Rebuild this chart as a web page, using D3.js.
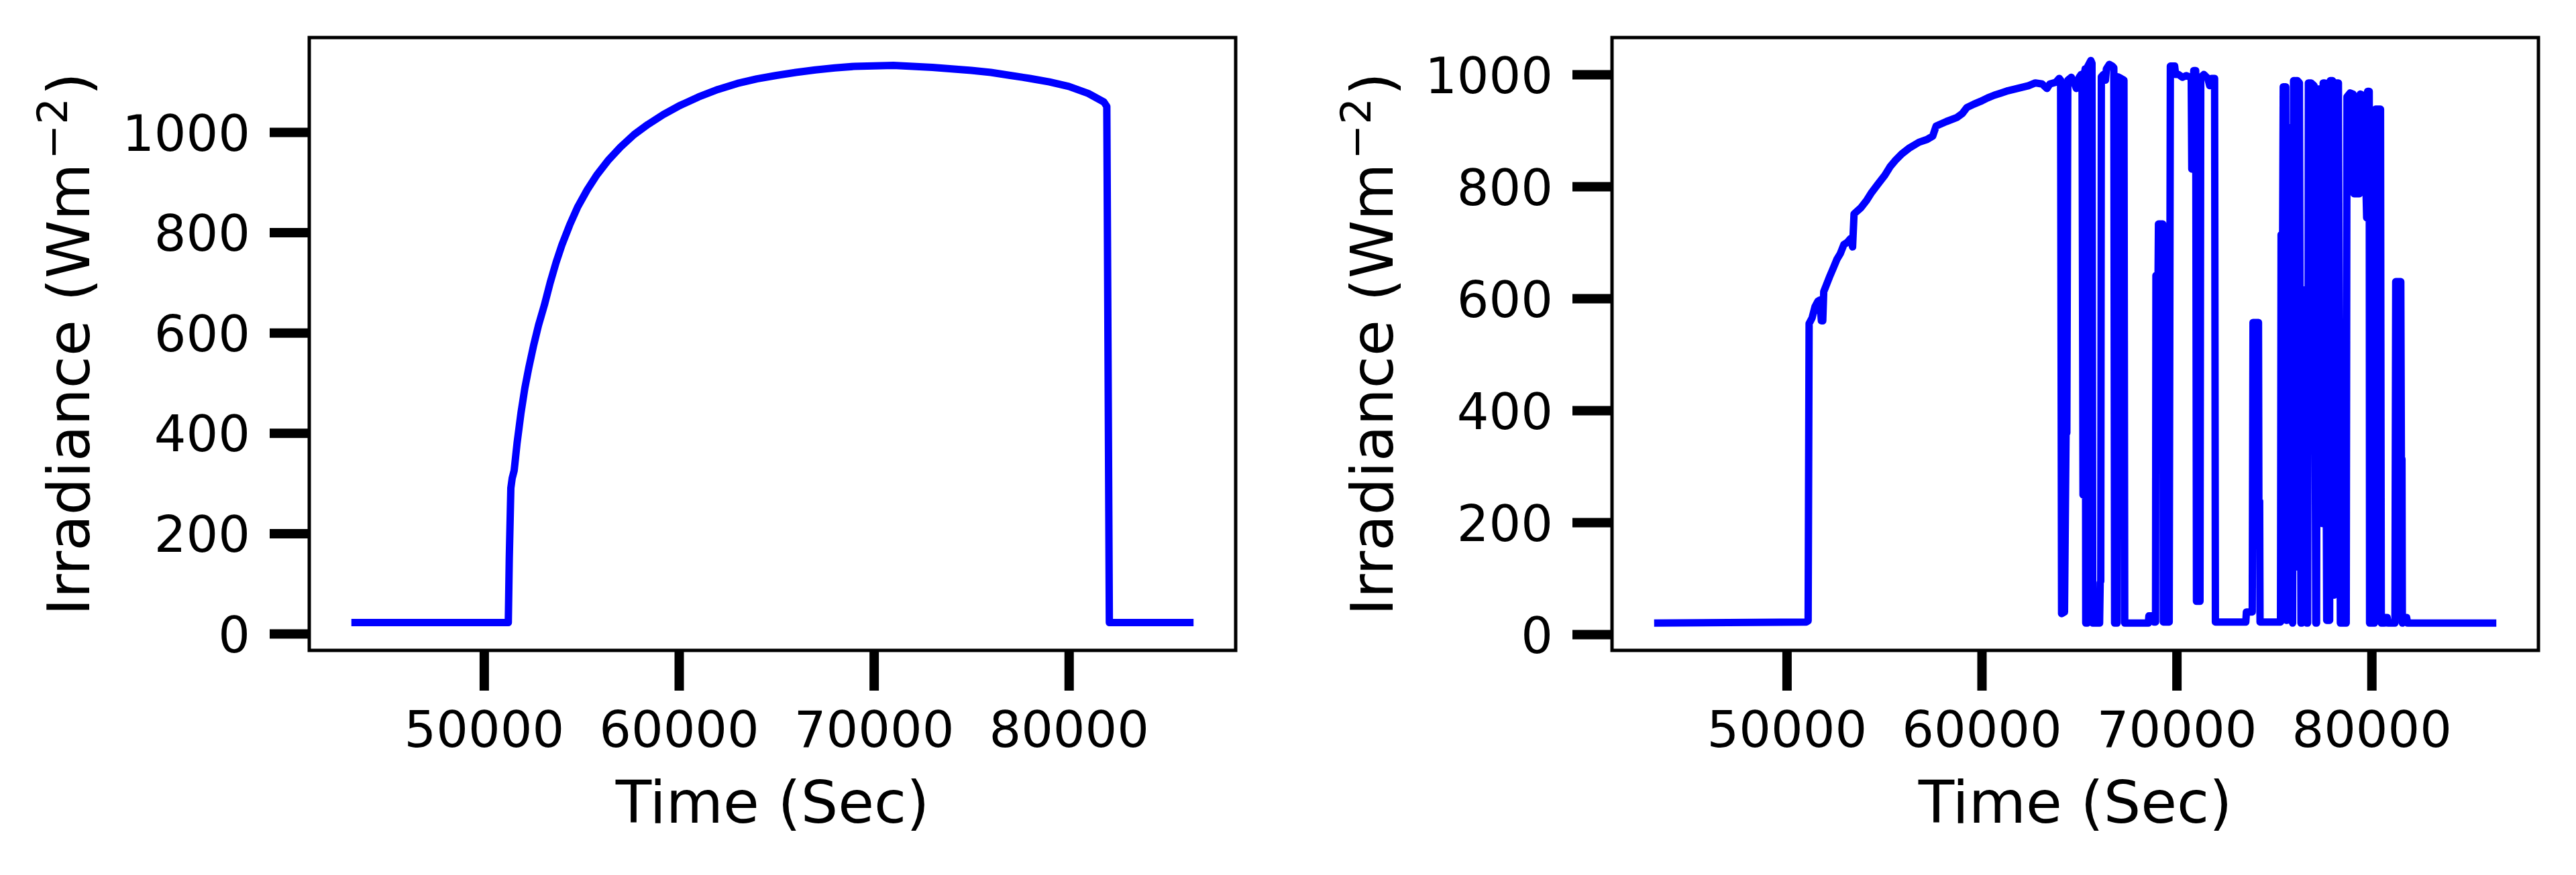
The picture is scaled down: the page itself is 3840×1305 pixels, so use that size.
<!DOCTYPE html>
<html>
<head>
<meta charset="utf-8">
<script src="https://cdn.jsdelivr.net/npm/d3@7"></script>
<style>
html,body{margin:0;padding:0;background:#fff;}
svg{display:block;}
</style>
</head>
<body>
<svg id="chart" width="3840" height="1305"></svg>
<script>
// ---------------- DATA ----------------
const xTickValues = [50000, 60000, 70000, 80000];
const leftYTicks = [0, 200, 400, 600, 800, 1000];
const rightYTicks = [0, 200, 400, 600, 800, 1000];
const xLabel = "Time (Sec)";
const yLabelMain = "Irradiance (Wm";
const yLabelSup = "\u22122";
const yLabelEnd = ")";

// Left panel: clear-sky day
const leftTime = [43200, 45000, 48000, 51250, 51300, 51380, 51450, 51550, 51700, 51900,
  52100, 52300, 52550, 52800, 53100, 53400, 53700, 54000, 54400, 54800,
  55300, 55800, 56400, 57000, 57700, 58400, 59200, 60000, 61000, 62000,
  63000, 64000, 65000, 66000, 67000, 68000, 69000, 70000, 71000, 72000,
  73000, 74000, 75000, 76000, 77000, 78000, 79000, 80000, 81000, 81800,
  81950, 82080, 84000, 86400];
const leftIrr = [22, 22, 22, 22, 150, 290, 310, 325, 380, 440,
  490, 530, 575, 615, 655, 700, 740, 775, 815, 850,
  885, 915, 945, 970, 995, 1015, 1035, 1052, 1070, 1085,
  1097, 1106, 1113, 1119, 1124, 1128, 1131, 1132, 1133, 1131,
  1129, 1126, 1123, 1119, 1113, 1107, 1100, 1091, 1077, 1060,
  1051, 22, 22, 22];

// Right panel: cloudy day
const rightTime = [
  43200, 47000, 51000, 51100, 51150, 51300, 51450, 51600, 51700, 51780,
  51850, 51900, 52228, 52400, 52578, 52750, 52929, 53100, 53280, 53380,
  53455, 53806, 54100, 54332, 54700, 55034, 55300, 55560, 55900, 56262,
  56788, 57200, 57490, 57665, 58191, 58717, 59000, 59243, 59600, 59945,
  60300, 60647, 61000, 61349, 61700, 62050, 62400, 62752, 63100, 63350,
  63500, 63800, 63980, 64050, 64100, 64250, 64330, 64370, 64420, 64600,
  64750, 64860, 65000, 65100, 65150, 65200, 65240, 65270, 65310, 65340,
  65420, 65450, 65600, 65660, 65700, 66050, 66080, 66110, 66140, 66250,
  66350, 66400, 66550, 66700, 66780, 66820, 66950, 66980, 67150, 67300,
  67340, 68550, 68580, 68800, 68830, 68920, 68940, 69050, 69070, 69290,
  69320, 69620, 69680, 69900, 69950, 70100, 70300, 70500, 70700, 70750,
  70780, 70850, 70880, 70980, 71020, 71200, 71240, 71400, 71600, 71700,
  71800, 71950, 71990, 73550, 73580, 73880, 73920, 74200, 74220, 74260,
  74280, 75330, 75360, 75440, 75470, 75520, 75540, 75560, 75600, 75630,
  75660, 75700, 75800, 75830, 75860, 75900, 75950, 76000, 76080, 76100,
  76130, 76200, 76300, 76380, 76420, 76450, 76600, 76680, 76720, 76760,
  76830, 76850, 76870, 76900, 77050, 77140, 77180, 77220, 77400, 77450,
  77480, 77520, 77600, 77700, 77850, 77880, 78000, 78080, 78120, 78300,
  78400, 78700, 78740, 78900, 79050, 79100, 79380, 79420, 79600, 79750,
  79800, 79880, 79900, 80150, 80200, 80460, 80500, 80650, 80700, 80800,
  80850, 81200, 81240, 81500, 81530, 81560, 81580, 81700, 81800, 81850,
  84000, 86400];
const rightIrr = [
  20, 21, 22, 24, 555, 565, 585, 595, 597, 560,
  560, 612, 641, 655, 670, 680, 696, 700, 707, 692,
  751, 762, 775, 788, 805, 820, 835, 846, 858, 868,
  879, 884, 890, 908, 916, 923, 930, 941, 947, 952,
  958, 963, 967, 971, 974, 977, 980, 985, 983, 975,
  983, 986, 993, 990, 37, 40, 360, 360, 990, 995,
  985, 975, 995, 1000, 990, 249, 249, 1000, 1010, 20,
  20, 1015, 1025, 1020, 20, 20, 92, 95, 996, 1000,
  990, 1010, 1018, 1015, 1012, 20, 20, 996, 993, 990,
  20, 20, 33, 33, 22, 22, 641, 641, 733, 733,
  22, 22, 1015, 1015, 1000, 1000, 995, 998, 995, 995,
  831, 831, 1007, 1007, 59, 59, 995, 1000, 993, 980,
  993, 993, 22, 22, 40, 40, 557, 557, 238, 238,
  22, 22, 714, 714, 978, 978, 410, 978, 978, 25,
  25, 905, 905, 300, 905, 905, 20, 989, 989, 120,
  989, 989, 985, 20, 20, 615, 615, 20, 20, 985,
  985, 560, 985, 985, 980, 20, 20, 974, 974, 198,
  198, 985, 985, 25, 25, 989, 989, 70, 985, 985,
  20, 20, 960, 967, 965, 787, 787, 965, 962, 744,
  970, 970, 20, 20, 938, 938, 20, 20, 30, 30,
  20, 20, 630, 630, 313, 313, 20, 30, 30, 20,
  20, 20];

// Axis limits
const xDomain = [41040, 88560];
const leftYDomain = [-33.4, 1188.5];
const rightYDomain = [-28.7, 1066];

// ---------------- DRAW ----------------
const svg = d3.select("#chart");
svg.append("rect").attr("width", 3840).attr("height", 1305).attr("fill", "#fff");
const defs = svg.append("defs");

const FONT = "DejaVu Sans";
const plotTop = 56, plotBottom = 970;

const panels = [
  {time: leftTime, irr: leftIrr, yDomain: leftYDomain, yTicks: leftYTicks, x0: 461, x1: 1842, labelX: 133},
  {time: rightTime, irr: rightIrr, yDomain: rightYDomain, yTicks: rightYTicks, x0: 2403, x1: 3784, labelX: 2076}
];

panels.forEach((p, i) => {
  const x = d3.scaleLinear().domain(xDomain).range([p.x0, p.x1]);
  const y = d3.scaleLinear().domain(p.yDomain).range([plotBottom, plotTop]);
  const g = svg.append("g");

  const clipId = "clip" + i;
  defs.append("clipPath").attr("id", clipId).append("rect")
    .attr("x", p.x0).attr("y", plotTop)
    .attr("width", p.x1 - p.x0).attr("height", plotBottom - plotTop);

  const data = p.time.map((t, k) => [t, p.irr[k]]);
  const line = d3.line().x(d => x(d[0])).y(d => y(d[1]));
  g.append("path").datum(data)
    .attr("d", line)
    .attr("fill", "none")
    .attr("stroke", "#0000ff")
    .attr("stroke-width", 11)
    .attr("stroke-linejoin", "round")
    .attr("clip-path", `url(#${clipId})`);

  // x axis
  const gx = g.append("g").attr("transform", `translate(0,${plotBottom})`)
    .call(d3.axisBottom(x).tickValues(xTickValues).tickSize(60).tickPadding(31).tickFormat(d3.format("d")));
  gx.select(".domain").remove();
  gx.selectAll(".tick line").attr("stroke", "#000").attr("stroke-width", 14);
  gx.selectAll(".tick text").attr("font-family", FONT).attr("font-size", 75).attr("fill", "#000");

  // y axis
  const gy = g.append("g").attr("transform", `translate(${p.x0},0)`)
    .call(d3.axisLeft(y).tickValues(p.yTicks).tickSize(59).tickPadding(29).tickFormat(d3.format("d")));
  gy.select(".domain").remove();
  gy.selectAll(".tick line").attr("stroke", "#000").attr("stroke-width", 14);
  gy.selectAll(".tick text").attr("font-family", FONT).attr("font-size", 75).attr("fill", "#000").attr("dy", "0.36em");

  // frame
  g.append("rect")
    .attr("x", p.x0).attr("y", plotTop)
    .attr("width", p.x1 - p.x0).attr("height", plotBottom - plotTop)
    .attr("fill", "none").attr("stroke", "#000").attr("stroke-width", 5);

  // x label
  g.append("text")
    .attr("x", (p.x0 + p.x1) / 2).attr("y", 1227)
    .attr("text-anchor", "middle")
    .attr("font-family", FONT).attr("font-size", 87.5).attr("fill", "#000")
    .text(xLabel);

  // y label
  const yl = g.append("text")
    .attr("transform", `translate(${p.labelX},${(plotTop + plotBottom) / 2}) rotate(-90)`)
    .attr("text-anchor", "middle")
    .attr("font-family", FONT).attr("font-size", 87.5).attr("fill", "#000");
  yl.append("tspan").text(yLabelMain);
  yl.append("tspan").attr("dy", -33).attr("dx", 6).attr("font-size", 62).text(yLabelSup);
  yl.append("tspan").attr("dy", 33).attr("dx", 4).text(yLabelEnd);
});
</script>
</body>
</html>
